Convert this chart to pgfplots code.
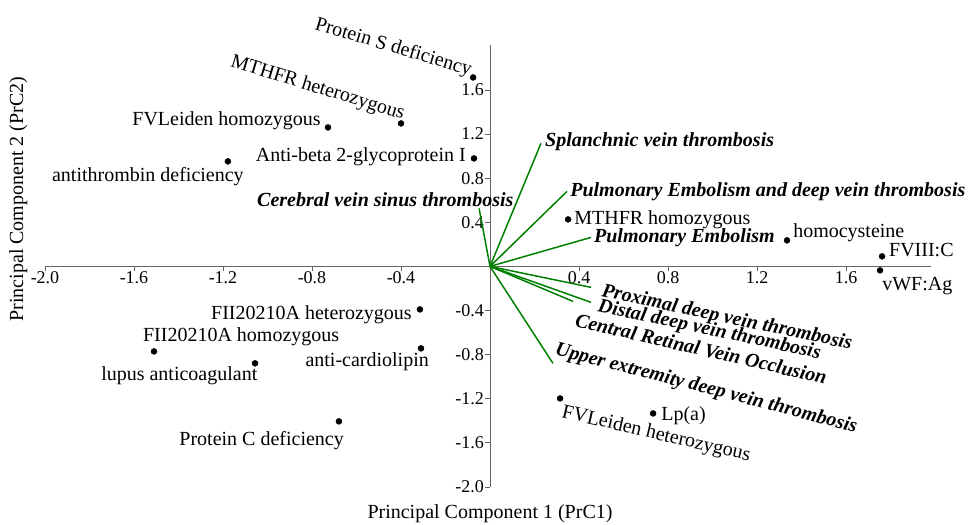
\documentclass[border=0pt]{standalone}
\usepackage{fontspec}
\setmainfont{Liberation Serif}
\usepackage{pgfplots}
\pgfplotsset{compat=1.18}
\definecolor{axgray}{RGB}{100,100,100}
\definecolor{vecgreen}{RGB}{0,128,0}
\newcommand{\lf}{\fontsize{20}{24}\selectfont}
\newcommand{\vf}{\fontsize{20}{24}\selectfont\bfseries\itshape}
\begin{document}
\begin{tikzpicture}
\begin{axis}[
  name=ax,
  x=222.5pt, y=110.3pt,
  xmin=-2.0, xmax=1.98, ymin=-2.0, ymax=2.01,
  enlargelimits=false,
  axis lines=middle,
  axis line style={axgray, line width=0.8pt, -},
  clip=false,
  xtick={-2,-1.6,-1.2,-0.8,-0.4,0.4,0.8,1.2,1.6},
  ytick={-2,-1.6,-1.2,-0.8,-0.4,0.4,0.8,1.2,1.6},
  tick align=outside,
  major tick length=5pt,
  tick style={axgray, line width=0.8pt},
  /pgf/number format/assume math mode=true,
  /pgf/number format/.cd, fixed, fixed zerofill, precision=1,
  /pgfplots/.cd,
  ticklabel style={font=\fontsize{18}{20}\selectfont, inner sep=1pt},
  xticklabel style={anchor=north, yshift=1pt},
  yticklabel style={anchor=east, xshift=0pt},
]
% green loading vectors
\addplot[vecgreen, line width=1.5pt] coordinates {(0,0) (-0.049,0.526)};
\addplot[vecgreen, line width=1.5pt] coordinates {(0,0) (0.229,1.115)};
\addplot[vecgreen, line width=1.5pt] coordinates {(0,0) (0.346,0.680)};
\addplot[vecgreen, line width=1.5pt] coordinates {(0,0) (0.454,0.263)};
\addplot[vecgreen, line width=1.5pt] coordinates {(0,0) (0.454,-0.190)};
\addplot[vecgreen, line width=1.5pt] coordinates {(0,0) (0.454,-0.326)};
\addplot[vecgreen, line width=1.5pt] coordinates {(0,0) (0.373,-0.317)};
\addplot[vecgreen, line width=1.5pt] coordinates {(0,0) (0.283,-0.879)};
% scores
\addplot[only marks, mark=*, mark size=3pt, black] coordinates {
(-0.076,1.713) (-0.400,1.296) (-0.728,1.260) (-0.072,0.979) (-1.178,0.952)
(0.351,0.426) (1.335,0.236) (1.762,0.091) (1.753,-0.036)
(0.315,-1.197) (0.733,-1.333)
(-0.315,-0.390) (-1.510,-0.771) (-1.056,-0.879) (-0.310,-0.743) (-0.679,-1.405)
};
% point labels
\node[anchor=base east, inner sep=0pt, font=\lf] at (axis cs:-0.760,1.278) {FVLeiden homozygous};
\node[anchor=base east, inner sep=0pt, font=\lf] at (axis cs:-0.108,0.952) {Anti-beta 2-glycoprotein I};
\node[anchor=base west, inner sep=0pt, font=\lf] at (axis cs:-1.969,0.771) {antithrombin deficiency};
\node[anchor=base west, inner sep=0pt, font=\lf] at (axis cs:0.378,0.381) {MTHFR homozygous};
\node[anchor=base west, inner sep=0pt, font=\lf] at (axis cs:1.362,0.263) {homocysteine};
\node[anchor=base west, inner sep=0pt, font=\lf] at (axis cs:1.793,0.091) {FVIII:C};
\node[anchor=base west, inner sep=0pt, font=\lf] at (axis cs:1.762,-0.218) {vWF:Ag};
\node[anchor=base west, inner sep=0pt, font=\lf] at (axis cs:0.769,-1.396) {Lp(a)};
\node[anchor=base east, inner sep=0pt, font=\lf] at (axis cs:-0.351,-0.481) {FII20210A heterozygous};
\node[anchor=base west, inner sep=0pt, font=\lf] at (axis cs:-1.560,-0.680) {FII20210A homozygous};
\node[anchor=base west, inner sep=0pt, font=\lf] at (axis cs:-1.748,-1.034) {lupus anticoagulant};
\node[anchor=base east, inner sep=0pt, font=\lf] at (axis cs:-0.274,-0.907) {anti-cardiolipin};
\node[anchor=base east, inner sep=0pt, font=\lf] at (axis cs:-0.656,-1.623) {Protein C deficiency};
\node[anchor=base west, inner sep=0pt, font=\lf, rotate=-16.5] at (axis cs:-0.791,2.150) {Protein S deficiency};
\node[anchor=base west, inner sep=0pt, font=\lf, rotate=-17] at (axis cs:-1.170,1.813) {MTHFR heterozygous};
\node[anchor=base west, inner sep=0pt, font=\lf, rotate=-13] at (axis cs:0.319,-1.369) {FVLeiden heterozygous};
% vector labels
\node[anchor=base west, inner sep=0pt, font=\vf] at (axis cs:-1.047,0.544) {Cerebral vein sinus thrombosis};
\node[anchor=base west, inner sep=0pt, font=\vf] at (axis cs:0.247,1.088) {Splanchnic vein thrombosis};
\node[anchor=base west, inner sep=0pt, font=\vf] at (axis cs:0.360,0.635) {Pulmonary Embolism and deep vein thrombosis};
\node[anchor=base west, inner sep=0pt, font=\vf] at (axis cs:0.467,0.218) {Pulmonary Embolism};
\node[anchor=base west, inner sep=0pt, font=\vf, rotate=-12] at (axis cs:0.499,-0.272) {Proximal deep vein thrombosis};
\node[anchor=base west, inner sep=0pt, font=\vf, rotate=-12] at (axis cs:0.481,-0.408) {Distal deep vein thrombosis};
\node[anchor=base west, inner sep=0pt, font=\vf, rotate=-13] at (axis cs:0.378,-0.544) {Central Retinal Vein Occlusion};
\node[anchor=base west, inner sep=0pt, font=\vf, rotate=-14.5] at (axis cs:0.288,-0.798) {Upper extremity deep vein thrombosis};
% axis titles
\node[font=\lf, anchor=center] at (axis cs:0.0,-2.24) {Principal Component 1 (PrC1)};
\node[font=\lf, anchor=center, rotate=90] at (axis cs:-2.12,0.61) {Principal Component 2 (PrC2)};
\end{axis}
\pgfresetboundingbox
\path ([xshift=-45pt,yshift=-38pt]ax.south west) rectangle ([xshift=925pt,yshift=487pt]ax.south west);
\end{tikzpicture}
\end{document}
